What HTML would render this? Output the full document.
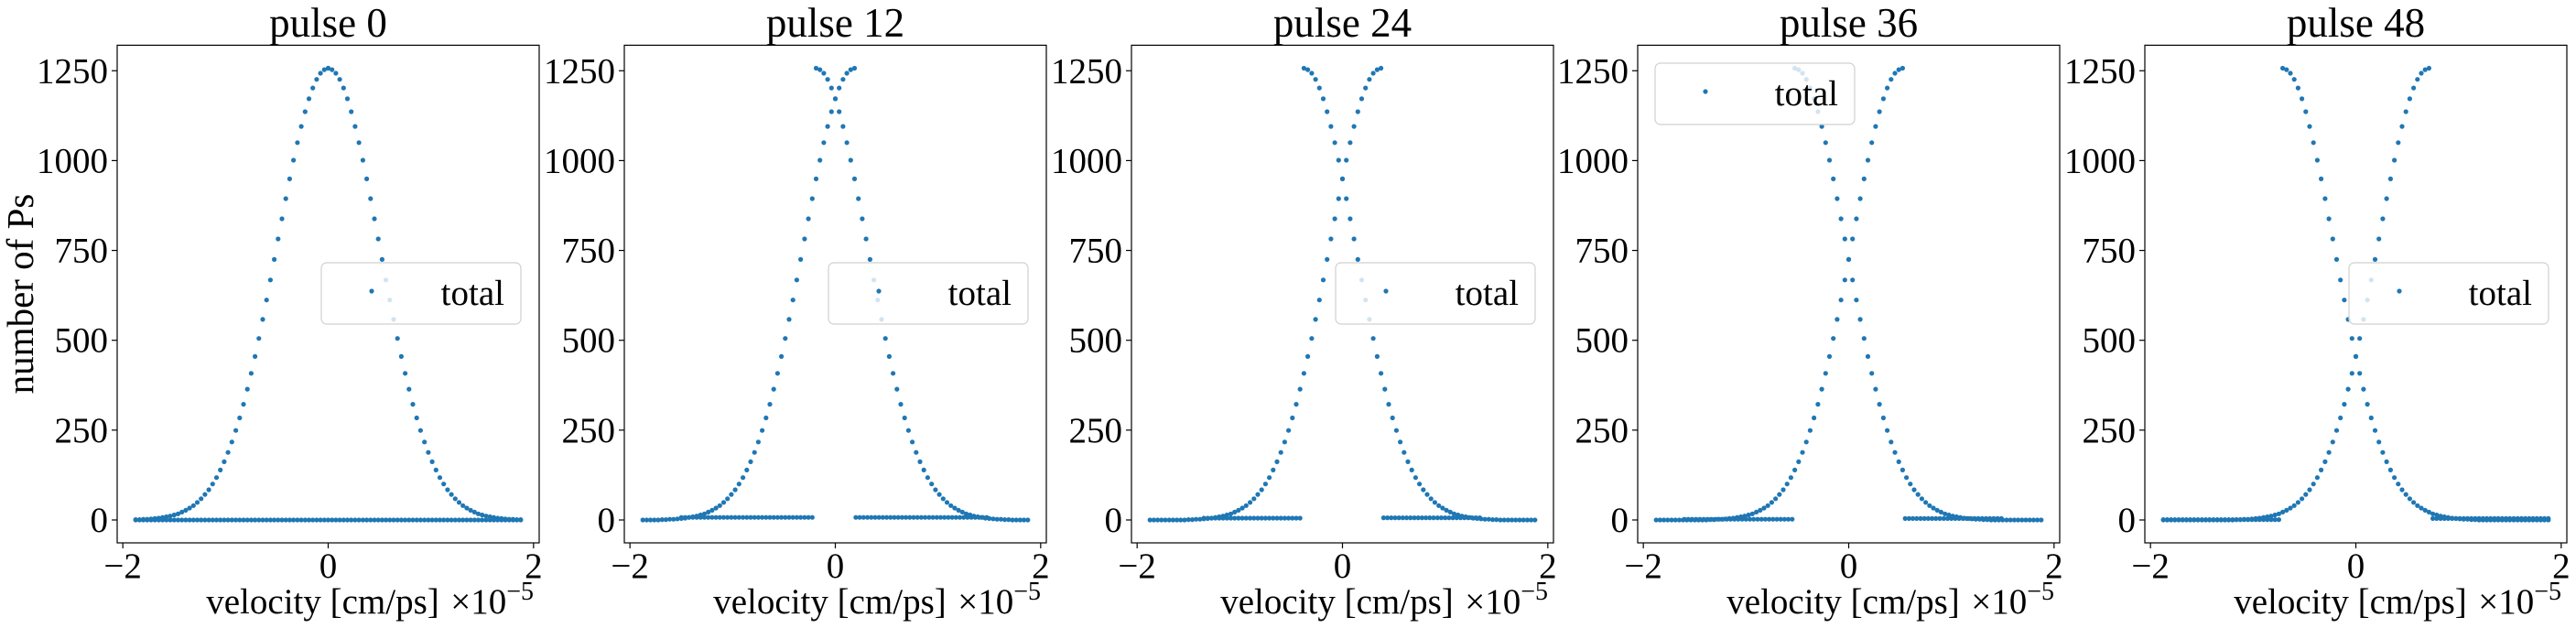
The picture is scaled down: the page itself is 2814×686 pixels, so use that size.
<!DOCTYPE html>
<html><head><meta charset="utf-8"><style>
html,body{margin:0;padding:0;background:#fff;}
svg{display:block;font-family:"Liberation Serif",serif;}
</style></head><body>
<svg id="fig" width="2814" height="686" viewBox="0 0 2814 686" xmlns="http://www.w3.org/2000/svg"></svg>
<script>
// ---- data ----
const titles = ["pulse 0","pulse 12","pulse 24","pulse 36","pulse 48"];
const yTicks = [0,250,500,750,1000,1250];
const xTicks = [-2,0,2];
const xTickLabels = ["\u22122","0","2"];
// half-profile counts per velocity bin offset from the peak (bin width 0.0375)
const profile = [1257,1253,1243,1226,1202,1172,1136,1095,1050,1001,949,894,838,782,725,668,612,558,505,455,408,364,322,284,249,217,188,162,139,118,100,84,71,59,49,40,33,27,22,17,14,11,9,7,5,4,3,2,2,1,1,0,0,0,0,0,0,0,0,0,0,0,0,0,0,0,0,0,0,0,0,0,0,0,0,0,0,0,0,0,0,0,0,0,0,0,0,0,0,0,0,0,0,0,0,0,0,0,0,0,0,0,0,0,0,0];
// peak shift of each half-gaussian per panel (velocity units, 1e-5 cm/ps)
const shifts = [0,0.1875,0.375,0.525,0.7125];
// flat background segments per panel: [start, end, level]
const flatSegs = [
  [[-1.875,1.875,0]],
  [[-1.5,-0.2,7],[0.2,1.5,7]],
  [[-1.35,-0.4,5],[0.4,1.35,6]],
  [[-1.6,-0.55,2],[0.55,1.5,4]],
  [[-1.875,-0.75,1],[0.75,1.875,4]]
];
const legendPos = ["right","right","right","upper-left","right"];

// ---- layout ----
const NS="http://www.w3.org/2000/svg";
const svg=document.getElementById('fig');
const panelLefts=[128,682,1236,1789,2343];
const PW=461, TOP=49.4, BOT=593;
const XMIN=-2.055, XMAX=2.055, YMIN=-63.7, YMAX=1321;
const BIN=0.0375, VMIN=-1.875, VMAX=1.875;
const C="#1f77b4";
function mk(tag,attrs,parent){const e=document.createElementNS(NS,tag);for(const k in attrs)e.setAttribute(k,attrs[k]);(parent||svg).appendChild(e);return e;}

titles.forEach((t,p)=>{
  const L=panelLefts[p];
  const xs=v=>L+(v-XMIN)/(XMAX-XMIN)*PW;
  const ys=v=>BOT-(v-YMIN)/(YMAX-YMIN)*(BOT-TOP);
  const g=mk('g',{});
  
  
  const title=mk('text',{x:L+PW/2,y:40,'font-size':45,'text-anchor':'middle'},g);
  title.textContent=t;
  
  
  // points
  const pts=mk('g',{fill:C},g);
  
  
  const dot=(x,y)=>{const c=mk('circle',{cx:xs(x).toFixed(1),cy:ys(y).toFixed(1),r:2.6},pts);
    
    };
  flatSegs[p].forEach(s=>{for(let x=s[0];x<=s[1]+1e-9;x+=BIN)dot(x,s[2]);});
  const s=shifts[p];
  for(let k=0;k<profile.length;k++){const x=-s+k*BIN;if(x>VMAX+1e-9)break;dot(x,profile[k]);}
  for(let k=0;k<profile.length;k++){const x=s-k*BIN;if(x<VMIN-1e-9)break;dot(x,profile[k]);}
  // frame
  const fr=mk('rect',{x:L,y:TOP,width:PW,height:BOT-TOP,fill:'none',stroke:'#000','stroke-width':1.2},g);
  
  
  // y ticks
  yTicks.forEach(v=>{const y=ys(v);
    mk('line',{x1:L-6,x2:L,y1:y,y2:y,stroke:'#000','stroke-width':1.2},g);
    const tl=mk('text',{x:L-10,y:y+13,'font-size':39,'text-anchor':'end'},g);tl.textContent=v;
    
    });
  xTicks.forEach((v,i)=>{const x=xs(v);
    mk('line',{x1:x,x2:x,y1:BOT,y2:BOT+6,stroke:'#000','stroke-width':1.2},g);
    const tl=mk('text',{x:x,y:631,'font-size':39,'text-anchor':'middle'},g);tl.textContent=xTickLabels[i];
    
    });
  const xl=mk('text',{x:L+PW/2-6,y:670,'font-size':39,'text-anchor':'middle'},g);xl.textContent='velocity [cm/ps]';
  
  
  const off=mk('text',{x:L+PW-6,y:670,'font-size':39,'text-anchor':'end'},g);
  
  
  const t1=mk('tspan',{},off);t1.textContent='\u00d710';
  const t2=mk('tspan',{dy:-15,'font-size':28},off);t2.textContent='\u22125';
  // legend
  let bx,by; if(legendPos[p]==='right'){bx=L+PW-238;by=287;}else{bx=L+19;by=69;}
  const lg=mk('g',{},g);
  
  
  mk('rect',{x:bx,y:by,width:218,height:67,rx:6,fill:'#fff','fill-opacity':0.8,stroke:'#d0d0d0','stroke-width':1.2},lg);
  mk('circle',{cx:bx+55,cy:by+31,r:2.6,fill:C},lg);
  const lt=mk('text',{x:bx+200,y:by+46,'font-size':39,'text-anchor':'end'},lg);lt.textContent='total';
  
  
});
const yl=mk('text',{x:0,y:0,'font-size':41,'text-anchor':'middle',transform:'translate(36,321) rotate(-90)'});
yl.textContent='number of Ps';


</script>
</body></html>
